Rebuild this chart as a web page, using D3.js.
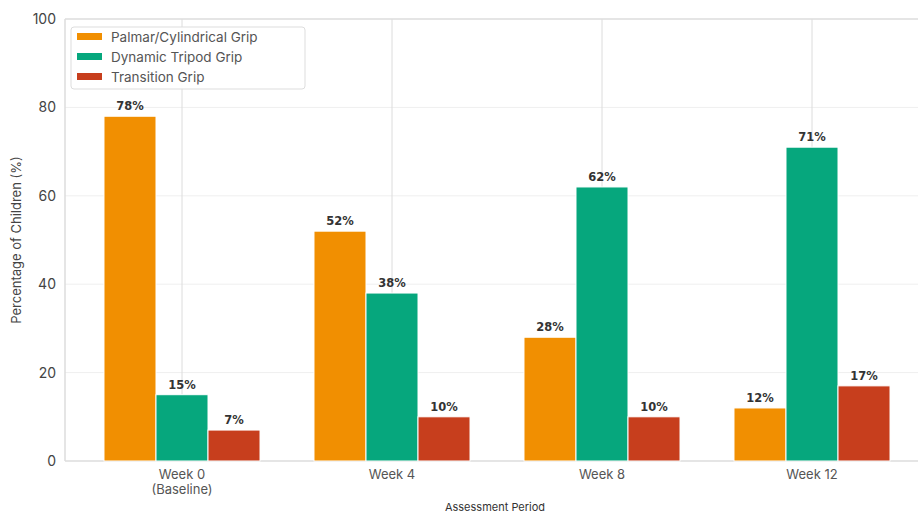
<!DOCTYPE html>
<html>
<head>
<meta charset="utf-8">
<script src="https://cdn.jsdelivr.net/npm/d3@7"></script>
<style>
  body { margin: 0; background: #fff; }
  svg { display: block; font-family: Inter, "Noto Sans", sans-serif; }
</style>
</head>
<body>
<svg id="chart" width="918" height="515"></svg>
<script>
const periods = ["Week 0\n(Baseline)", "Week 4", "Week 8", "Week 12"];
const seriesNames = ["Palmar/Cylindrical Grip", "Dynamic Tripod Grip", "Transition Grip"];
const palmar = [78, 52, 28, 12];
const tripod = [15, 38, 62, 71];
const transition = [7, 10, 10, 17];
const yTicks = [0, 20, 40, 60, 80, 100];
const colors = ["#F18F01", "#06A77D", "#C73E1D"];

const values = [palmar, tripod, transition];
const rows = periods.map((p, i) => ({ period: p, vals: values.map(v => v[i]) }));

const svg = d3.select("#chart");
const margin = { left: 65, top: 19, right: -11, bottom: 54 };
const width = +svg.attr("width");
const height = +svg.attr("height");

const x0 = d3.scaleBand()
  .domain(periods)
  .range([margin.left, width - margin.right])
  .paddingInner(0)
  .paddingOuter(12 / 210);

const groupW = x0.bandwidth() * 0.743;
const x1 = d3.scaleBand()
  .domain(seriesNames)
  .range([(x0.bandwidth() - groupW) / 2, (x0.bandwidth() + groupW) / 2]);

const y = d3.scaleLinear()
  .domain([0, 100])
  .range([height - margin.bottom, margin.top]);

// grid
const grid = svg.append("g");
grid.selectAll(".hgrid").data(yTicks.filter(t => t > 0 && t < 100))
  .enter().append("line")
  .attr("x1", margin.left).attr("x2", width)
  .attr("y1", d => y(d)).attr("y2", d => y(d))
  .attr("stroke", "#efefef").attr("stroke-width", 1);
grid.selectAll(".vgrid").data(periods)
  .enter().append("line")
  .attr("x1", d => x0(d) + x0.bandwidth() / 2).attr("x2", d => x0(d) + x0.bandwidth() / 2)
  .attr("y1", y(100)).attr("y2", y(0))
  .attr("stroke", "#dcdcdc").attr("stroke-width", 1);

// frame
svg.append("line").attr("x1", margin.left).attr("x2", width).attr("y1", y(100)).attr("y2", y(100))
  .attr("stroke", "#dddddd").attr("stroke-width", 1.5);
svg.append("line").attr("x1", margin.left).attr("x2", margin.left).attr("y1", y(100)).attr("y2", y(0))
  .attr("stroke", "#dddddd").attr("stroke-width", 1.5);
svg.append("line").attr("x1", margin.left).attr("x2", width).attr("y1", y(0)).attr("y2", y(0))
  .attr("stroke", "#dddddd").attr("stroke-width", 1.5);

// bars
const groups = svg.selectAll(".grp").data(rows)
  .enter().append("g")
  .attr("transform", d => `translate(${x0(d.period)},0)`);

groups.selectAll("rect")
  .data(d => d.vals.map((v, k) => ({ name: seriesNames[k], value: v, k })))
  .enter().append("rect")
  .attr("x", d => x1(d.name))
  .attr("y", d => y(d.value))
  .attr("width", x1.bandwidth())
  .attr("height", d => y(0) - y(d.value))
  .attr("fill", d => colors[d.k])
  .attr("stroke", "#ffffff")
  .attr("stroke-width", 1);

groups.selectAll("text.val")
  .data(d => d.vals.map((v, k) => ({ name: seriesNames[k], value: v })))
  .enter().append("text")
  .attr("class", "val")
  .attr("x", d => x1(d.name) + x1.bandwidth() / 2)
  .attr("y", d => y(d.value) - 6)
  .attr("text-anchor", "middle")
  .attr("font-family", "DejaVu Sans, sans-serif")
  .attr("font-weight", "bold")
  .attr("font-size", 11.5)
  .attr("fill", "#333")
  .text(d => d.value + "%");

// y ticks
svg.append("g").selectAll("text").data(yTicks)
  .enter().append("text")
  .attr("x", 56)
  .attr("y", d => y(d))
  .attr("dy", "0.35em")
  .attr("text-anchor", "end")
  .attr("font-size", 14)
  .attr("fill", "#444")
  .text(d => d);

// x ticks
const xt = svg.append("g").selectAll("text").data(periods)
  .enter().append("text")
  .attr("x", d => x0(d) + x0.bandwidth() / 2)
  .attr("y", 479)
  .attr("text-anchor", "middle")
  .attr("font-size", 13)
  .attr("fill", "#555");
xt.each(function(d) {
  d.split("\n").forEach((line, i) => {
    d3.select(this).append("tspan")
      .attr("x", x0(d) + x0.bandwidth() / 2)
      .attr("dy", i === 0 ? 0 : 15)
      .text(line);
  });
});

// axis titles
svg.append("text")
  .attr("transform", `translate(21,${(y(0) + y(100)) / 2}) rotate(-90)`)
  .attr("text-anchor", "middle")
  .attr("font-size", 13)
  .attr("fill", "#444")
  .text("Percentage of Children (%)");

svg.append("text")
  .attr("x", 495)
  .attr("y", 511)
  .attr("text-anchor", "middle")
  .attr("font-size", 11)
  .attr("fill", "#333")
  .text("Assessment Period");

// legend
const lg = svg.append("g").attr("transform", "translate(71,27)");
lg.append("rect")
  .attr("width", 234).attr("height", 62)
  .attr("rx", 3)
  .attr("fill", "#fff").attr("fill-opacity", 0.9)
  .attr("stroke", "#dddddd");
seriesNames.forEach((name, i) => {
  lg.append("rect")
    .attr("x", 6).attr("y", 6 + i * 20)
    .attr("width", 25).attr("height", 7)
    .attr("fill", colors[i]);
  lg.append("text")
    .attr("x", 40).attr("y", 10 + i * 20)
    .attr("dy", "0.35em")
    .attr("font-size", 13.5)
    .attr("fill", "#555")
    .text(name);
});
</script>
</body>
</html>
